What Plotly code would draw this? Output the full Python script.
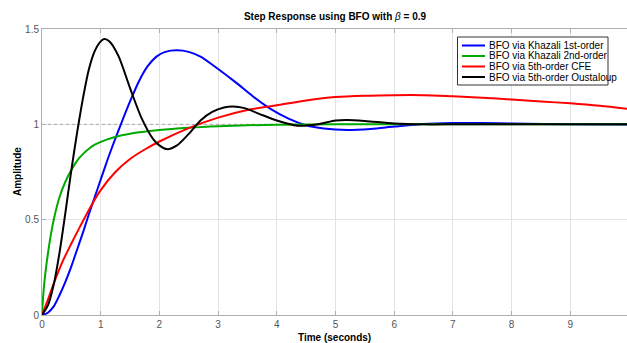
import plotly.graph_objects as go

# ---- data ----
t_blue = [0, 0.1, 0.2, 0.3, 0.4, 0.5, 0.6, 0.7, 0.8, 0.9, 1.0, 1.1, 1.2, 1.35, 1.5, 1.65, 1.8, 1.95,
          2.1, 2.3, 2.5, 2.7, 3.0, 3.3, 3.6, 3.9, 4.2, 4.5, 4.8, 5.2, 5.6, 6.0, 6.5, 7.0, 7.5, 8.0, 9.0, 10.0]
y_blue = [0, 0.012, 0.045, 0.105, 0.175, 0.255, 0.345, 0.435, 0.53, 0.62, 0.71, 0.80, 0.885, 1.005,
          1.12, 1.225, 1.305, 1.355, 1.38, 1.388, 1.38, 1.355, 1.29, 1.22, 1.145, 1.08, 1.03, 0.995,
          0.978, 0.970, 0.976, 0.988, 1.002, 1.007, 1.007, 1.004, 1.0, 0.999]

t_green = [0, 0.02, 0.05, 0.1, 0.15, 0.2, 0.3, 0.4, 0.5, 0.6, 0.7, 0.8, 0.9, 1.0, 1.2, 1.5, 2.0, 2.5,
           3.0, 3.5, 4.0, 5.0, 6.0, 8.0, 10.0]
y_green = [0, 0.1, 0.2, 0.32, 0.42, 0.50, 0.62, 0.70, 0.76, 0.81, 0.845, 0.872, 0.893, 0.908, 0.93, 0.951,
           0.97, 0.982, 0.99, 0.995, 0.998, 1.0, 1.0, 1.0, 1.0]

t_red = [0, 0.1, 0.2, 0.35, 0.5, 0.65, 0.85, 1.0, 1.25, 1.5, 1.75, 2.0, 2.5, 3.0, 3.5, 4.0, 4.5, 5.0,
         5.5, 6.0, 6.5, 7.0, 7.5, 8.0, 8.5, 9.0, 9.5, 10.0]
y_red = [0, 0.08, 0.165, 0.28, 0.375, 0.465, 0.58, 0.655, 0.75, 0.818, 0.868, 0.91, 0.98, 1.035, 1.075,
         1.10, 1.125, 1.143, 1.15, 1.153, 1.153, 1.147, 1.14, 1.13, 1.12, 1.11, 1.097, 1.08]

t_black = [0, 0.1, 0.2, 0.3, 0.4, 0.5, 0.6, 0.7, 0.8, 0.9, 1.0, 1.06, 1.15, 1.3, 1.5, 1.7, 1.9, 2.0,
           2.13, 2.3, 2.5, 2.7, 2.9, 3.1, 3.25, 3.45, 3.7, 4.0, 4.35, 4.7, 5.0, 5.2, 5.5, 6.0, 6.5, 7.0,
           8.0, 9.0, 10.0]
y_black = [0, 0.05, 0.16, 0.33, 0.54, 0.76, 0.96, 1.14, 1.29, 1.385, 1.435, 1.447, 1.435, 1.36, 1.19, 1.03,
           0.92, 0.89, 0.870, 0.89, 0.95, 1.02, 1.065, 1.088, 1.093, 1.085, 1.055, 1.02, 0.993, 1.0, 1.02,
           1.023, 1.018, 1.005, 1.0, 1.0, 1.001, 1.0, 1.0]

t_steady = [0, 10]
y_steady = [1, 1]

series_names = ["BFO via Khazali 1st-order", "BFO via Khazali 2nd-order",
                "BFO via 5th-order CFE", "BFO via 5th-order Oustaloup"]
series_colors = ["#0000ff", "#00aa00", "#ff0000", "#000000"]
x_ticks = [0, 1, 2, 3, 4, 5, 6, 7, 8, 9, 10]
y_ticks = [0, 0.5, 1, 1.5]
y_tick_text = ["0", "0.5", "1", "1.5"]

W, H = 627, 343
L, R, T, B = 42, 0, 29, 28
pw, ph = W - L - R, H - T - B

def px(x):
    return (x - L) / pw

def py(y):
    return (H - B - y) / ph

fig = go.Figure()
fig.add_trace(go.Scatter(x=t_steady, y=y_steady, mode="lines",
                         line=dict(color="#a8a8a8", width=1, dash="dot"),
                         showlegend=False, hoverinfo="skip"))
all_t = [t_blue, t_green, t_red, t_black]
all_y = [y_blue, y_green, y_red, y_black]
for tt, yy, nm, col in zip(all_t, all_y, series_names, series_colors):
    fig.add_trace(go.Scatter(x=tt, y=yy, mode="lines", name=nm,
                             line=dict(color=col, width=2, shape="spline", smoothing=0.8),
                             showlegend=False))

FONT = "Liberation Sans, Arial, sans-serif"
shapes = []
annotations = []
# legend box
shapes.append(dict(type="rect", xref="paper", yref="paper",
                   x0=px(457.5), x1=px(608), y0=py(85), y1=py(37),
                   line=dict(color="#333333", width=1), fillcolor="white", layer="above"))
rows = [45.5, 56, 66.5, 77]
for r, nm, col in zip(rows, series_names, series_colors):
    shapes.append(dict(type="line", xref="paper", yref="paper",
                       x0=px(462), x1=px(485), y0=py(r), y1=py(r),
                       line=dict(color=col, width=2), layer="above"))
    annotations.append(dict(text=nm, xref="paper", yref="paper", x=px(487), y=py(r),
                            xanchor="left", yanchor="middle", showarrow=False,
                            font=dict(family=FONT, size=10, color="#000000")))

annotations.append(dict(text="<b>Time (seconds)</b>", xref="paper", yref="paper",
                        x=0.5, y=py(337), xanchor="center", yanchor="middle", showarrow=False,
                        font=dict(family=FONT, size=10, color="#000000")))
annotations.append(dict(text="<b>Amplitude</b>", xref="paper", yref="paper",
                        x=px(17), y=0.5, xanchor="center", yanchor="middle", showarrow=False,
                        textangle=-90, font=dict(family=FONT, size=10, color="#000000")))

fig.update_layout(
    width=W, height=H,
    margin=dict(l=L, r=R, t=T, b=B),
    paper_bgcolor="white", plot_bgcolor="white",
    title=dict(text="<b>Step Response using BFO with </b><i>β</i><b> = 0.9</b>",
               x=px(335), xref="paper", xanchor="center",
               y=1 - 16 / H, yref="container", yanchor="middle",
               font=dict(family=FONT, size=10, color="#000000")),
    xaxis=dict(range=[0, pw / 58.7], tickvals=x_ticks, ticktext=[str(v) for v in x_ticks],
               showgrid=True, gridcolor="#e3e3e3", gridwidth=1, zeroline=False,
               showline=True, linecolor="#b0b0b0", linewidth=1, mirror="ticks",
               ticks="inside", ticklen=4, tickcolor="#b0b0b0",
               tickfont=dict(family=FONT, size=10, color="#555555")),
    yaxis=dict(range=[0, 1.5], tickvals=y_ticks, ticktext=y_tick_text,
               showgrid=True, gridcolor="#e3e3e3", gridwidth=1, zeroline=False,
               showline=True, linecolor="#b0b0b0", linewidth=1, mirror=False,
               ticks="inside", ticklen=4, tickcolor="#b0b0b0",
               tickfont=dict(family=FONT, size=10, color="#555555")),
    shapes=shapes, annotations=annotations, showlegend=False,
)

fig.write_html("out.html")
